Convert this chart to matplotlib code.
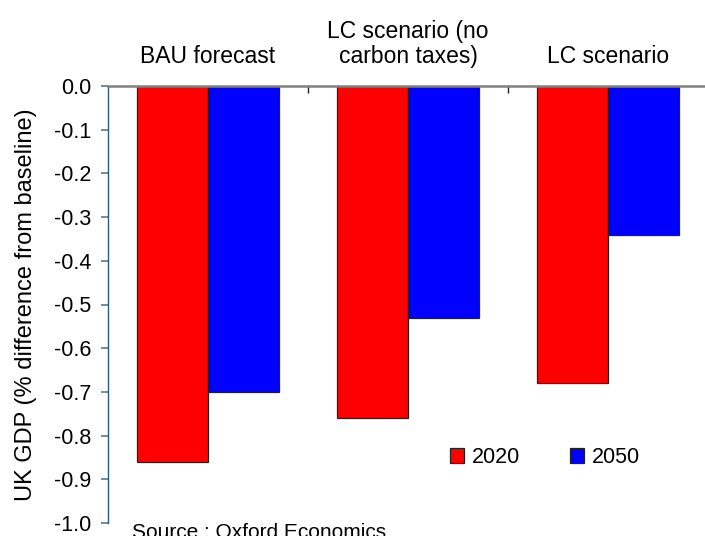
import matplotlib
matplotlib.use("Agg")
import matplotlib.pyplot as plt
import matplotlib.transforms as mtransforms
import numpy as np
from matplotlib.patches import Patch

plt.rcParams['font.family'] = ['Liberation Sans', 'DejaVu Sans']

categories = ["BAU forecast", "LC scenario (no\ncarbon taxes)", "LC scenario"]
series_names = ["2020", "2050"]
values_2020 = [-0.86, -0.76, -0.68]
values_2050 = [-0.70, -0.53, -0.34]
yticks = [0.0, -0.1, -0.2, -0.3, -0.4, -0.5, -0.6, -0.7, -0.8, -0.9, -1.0]
ylabel = "UK GDP (% difference from baseline)"
source = "Source : Oxford Economics"

W, H = 705, 536
fig = plt.figure(figsize=(W / 100, H / 100), dpi=100)
ax = fig.add_axes([108 / W, (H - 523) / H, 600 / W, 437 / H])

x = np.arange(len(categories))
bw = 0.357
ax.bar(x - bw / 2, values_2020, bw, color="#FF0000", edgecolor="#222222", linewidth=0.9, zorder=2)
ax.bar(x + bw / 2, values_2050, bw, color="#0000FF", edgecolor="#222222", linewidth=0.9, zorder=2)

ax.set_xlim(-0.5, 2.5)
ax.set_ylim(-1.0, 0.0)

for s in ["bottom", "right"]:
    ax.spines[s].set_visible(False)
ax.spines["top"].set_color("#808080")
ax.spines["top"].set_linewidth(1.8)
ax.spines["left"].set_color("#2F5A7A")
ax.spines["left"].set_linewidth(1.0)

ax.xaxis.tick_top()
ax.set_xticks([0.5, 1.5])
ax.set_xticklabels([])
ax.tick_params(axis="x", direction="in", length=5, width=1, color="#222222")

ax.set_yticks(yticks)
ax.set_yticklabels([f"{v:.1f}" for v in yticks], fontsize=15.5)
ax.tick_params(axis="y", direction="out", length=5, width=1.2, color="#5A7A90", pad=7)

ax.set_ylabel(ylabel, fontsize=17, labelpad=12)

# category headings above the plot, one text per line (x in data, y in figure)
heading_tr = mtransforms.blended_transform_factory(ax.transData, fig.transFigure)
line_pitch = 25 / H
base = (H - 63) / H
for xi, cat in zip(x, categories):
    for k, line in enumerate(reversed(cat.split("\n"))):
        ax.text(xi, base + k * line_pitch, line, transform=heading_tr,
                ha="center", va="baseline", fontsize=16.5)

handles = [Patch(facecolor="#FF0000", edgecolor="#222222", linewidth=0.9),
           Patch(facecolor="#0000FF", edgecolor="#222222", linewidth=0.9)]
fig.legend(handles, series_names, loc="center left", bbox_to_anchor=(450 / W, (H - 457.5) / H),
           ncol=2, frameon=False, fontsize=15.5, handlelength=0.65, handleheight=0.65,
           handletextpad=0.35, columnspacing=2.35, borderaxespad=0, borderpad=0)

fig.text(132 / W, (H - 532) / H, source, fontsize=15, ha="left", va="center")

fig.savefig("out.png", dpi=100)
